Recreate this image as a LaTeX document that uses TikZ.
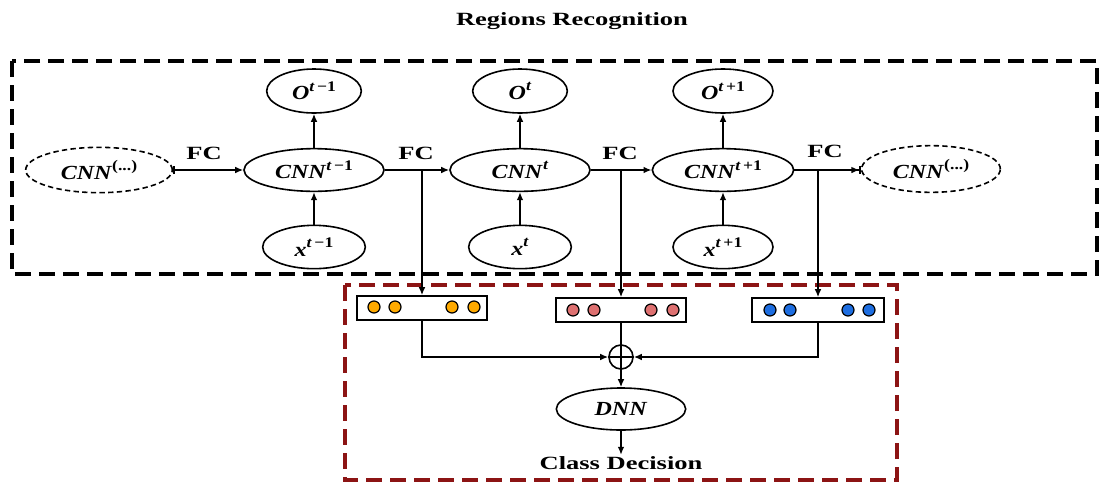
\documentclass[tikz,border=0pt]{standalone}
\usepackage{fontspec}
\setmainfont{Liberation Serif}
\newfontfamily\lblfont{Liberation Serif}[FakeStretch=1.42]
\newfontfamily\mfont{Liberation Serif}[FakeStretch=1.2]
\usetikzlibrary{arrows.meta,shapes.geometric}
\definecolor{boxred}{RGB}{140,20,20}
\definecolor{dotor}{RGB}{255,170,0}
\definecolor{dotpk}{RGB}{222,112,112}
\definecolor{dotbl}{RGB}{30,110,225}
\newcommand\vv[2]{\textbf{\textit{#1}}\raisebox{0.42em}{\fontsize{11}{12}\selectfont\bfseries #2}}
\tikzset{
  x=0.75pt,y=-0.75pt,
  ell/.style={draw,ellipse,line width=1.2pt,inner sep=0pt,minimum width=105pt,minimum height=32pt,font=\mfont\fontsize{15}{17}\selectfont},
  dell/.style={ell,dash pattern=on 4pt off 2.5pt,minimum width=110pt,minimum height=34pt},
  sell/.style={ell,minimum width=74pt,minimum height=32.5pt},
  arr/.style={line width=1.1pt,-{Latex[length=6pt,width=5pt]}},
  ln/.style={line width=1.1pt},
  lbl/.style={font=\lblfont\fontsize{14}{16}\selectfont\bfseries},
  vbox/.style={draw,line width=1.2pt,minimum width=97.5pt,minimum height=18pt,inner sep=0pt},
  dot/.style={circle,draw,line width=0.9pt,minimum size=9pt,inner sep=0pt},
}
\begin{document}
\begin{tikzpicture}
\useasboundingbox (0,0) rectangle (1100,483);
% frames
\draw[line width=2.6pt,dash pattern=on 12pt off 6pt] (12,61) rectangle (1097,274);
\draw[boxred,line width=2.4pt,dash pattern=on 12pt off 6pt] (345,285) rectangle (897,480);
\node[lbl] (title) at (572,21) {Regions Recognition};
% row
\node[dell] (dl) at (99,170) {\vv{CNN}{(...)}};
\node[ell] (c1) at (314,170) {\vv{CNN}{\textit{t}\,−1}};
\node[ell] (c2) at (520,170) {\vv{CNN}{\textit{t}}};
\node[ell,minimum width=106pt] (c3) at (723,170) {\vv{CNN}{\textit{t}\,+1}};
\node[dell,minimum width=104pt,minimum height=35pt] (dr) at (931,169) {\vv{CNN}{(...)}};
\node[sell,minimum width=71pt,minimum height=33pt] (o1) at (314,91) {\vv{O}{\textit{t}\,−1}};
\node[sell,minimum width=71pt,minimum height=33pt] (o2) at (520,91) {\vv{O}{\textit{t}}};
\node[sell,minimum width=75pt,minimum height=33pt] (o3) at (723,91) {\vv{O}{\textit{t}\,+1}};
\node[sell,minimum width=77pt] (x1) at (314,247) {\vv{x}{\textit{t}\,−1}};
\node[sell,minimum width=77pt] (x2) at (520,247) {\vv{x}{\textit{t}}};
\node[sell,minimum width=75pt] (x3) at (723,247) {\vv{x}{\textit{t}\,+1}};
\node[lbl] (f1) at (204,153) {FC};
\node[lbl] (f2) at (416,153) {FC};
\node[lbl] (f3) at (620,153) {FC};
\node[lbl] (f4) at (825,151) {FC};
\draw[line width=1.1pt,{Bar[width=6pt,line width=1.1pt]}-{Latex[length=6pt,width=5pt]}] (dl.east) -- (c1.west);
\draw[arr] (c1.east) -- (c2.west);
\draw[arr] (c2.east) -- (c3.west);
\draw[line width=1.1pt,-{Latex[length=6pt,width=5pt] Bar[width=6pt,line width=1.1pt]}] (c3.east) -- (c3.east -| dr.west);
\foreach \i in {1,2,3}{
  \draw[arr] (c\i.north) -- (o\i.south);
  \draw[arr] (x\i.north) -- (c\i.south);
}
% vectors
\node[vbox] (b1) at (422,308) {};
\node[vbox] (b2) at (621,310) {};
\node[vbox,minimum width=99pt] (b3) at (818,310) {};
\foreach \x/\n in {374/a,395/b,452/c,474/d}{\node[dot,fill=dotor] (o\n) at (\x,307) {};}
\foreach \x/\n in {573/a,594/b,651/c,673/d}{\node[dot,fill=dotpk] (p\n) at (\x,310) {};}
\foreach \x/\n in {770/a,790/b,848/c,869/d}{\node[dot,fill=dotbl] (q\n) at (\x,310) {};}
\coordinate (s1) at (b1.north |- c1.east);
\coordinate (s2) at (b2.north |- c2.east);
\coordinate (s3) at (b3.north |- c3.east);
\draw[arr] (s1) -- (b1.north);
\draw[arr] (s2) -- (b2.north);
\draw[arr] (s3) -- (b3.north);
% fusion
\node[circle,draw,line width=1.2pt,minimum size=18pt,inner sep=0pt] (plus) at (621,357) {};
\draw[line width=1.1pt] (plus.north) -- (plus.south) (plus.west) -- (plus.east);
\draw[arr] (b1.south) |- (plus.west);
\draw[arr] (b3.south) |- (plus.east);
\draw[ln] (b2.south) -- (plus.north);
\node[ell,minimum width=97pt,minimum height=31.5pt] (dnn) at (621,409) {\textbf{\textit{DNN}}};
\draw[arr] (plus.south) -- (dnn.north);
\node[lbl,inner sep=1pt] (cls) at (621,463) {Class Decision};
\draw[arr] (dnn.south) -- (cls.north);
\end{tikzpicture}
\end{document}
